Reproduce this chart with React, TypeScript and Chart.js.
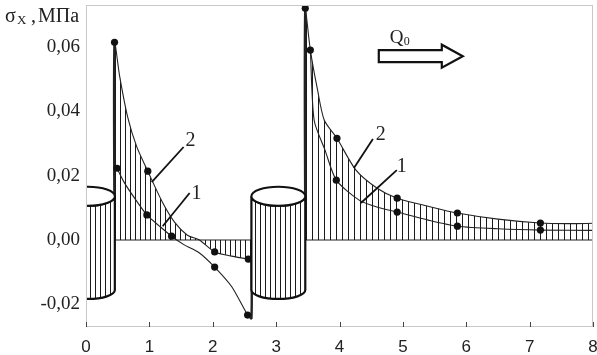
import React, { useEffect, useRef } from "react";
import { Chart, registerables } from "chart.js";

Chart.register(...registerables);

type P = [number, number];

// ---- axis ticks ----
const xTicks = [0, 1, 2, 3, 4, 5, 6, 7, 8];
const yTicks = [-0.02, 0, 0.02, 0.04, 0.06];

// ---- curve 2 (upper) ----
const curve2Left: P[] = [
  [0.45, 0], [0.45, 0.0614], [0.53, 0.051], [0.66, 0.038], [0.8, 0.029],
  [0.975, 0.0214], [1.2, 0.012], [1.4, 0.0055], [1.6, 0.0015], [1.79, 0],
  [2.03, -0.0037], [2.3, -0.005], [2.56, -0.0059], [2.61, -0.006], [2.61, 0],
];
const curve2Right: P[] = [
  [3.46, 0], [3.46, 0.072], [3.54, 0.059], [3.65, 0.047], [3.76, 0.0372],
  [3.96, 0.0316], [4.26, 0.0217], [4.6, 0.016], [4.91, 0.013], [5.4, 0.0105],
  [5.86, 0.0084], [6.5, 0.0065], [7.17, 0.0053], [7.6, 0.0051], [8, 0.0052],
];

// ---- curve 1 (lower) ----
const curve1Left: P[] = [
  [0.49, 0.0223], [0.6, 0.018], [0.75, 0.0135], [0.96, 0.0078], [1.15, 0.0045],
  [1.35, 0.0012], [1.55, -0.0015], [1.79, -0.004], [2.03, -0.0084],
  [2.3, -0.0145], [2.55, -0.0233], [2.61, -0.0245], [2.61, 0],
];
const curve1Right: P[] = [
  [3.54, 0.059], [3.6, 0.0372], [3.77, 0.028], [3.95, 0.0186], [4.31, 0.0124],
  [4.6, 0.0102], [4.91, 0.0087], [5.4, 0.0062], [5.86, 0.0043], [6.5, 0.0035],
  [7.17, 0.0031], [8, 0.003],
];

// ---- measured points ----
const markers2: P[] = [
  [0.45, 0.0614], [0.975, 0.0214], [2.03, -0.0037], [2.56, -0.0059],
  [3.46, 0.072], [3.54, 0.059], [3.96, 0.0316], [4.91, 0.013], [5.86, 0.0084], [7.17, 0.0053],
];
const markers1: P[] = [
  [0.49, 0.0223], [0.96, 0.0078], [1.35, 0.0012], [2.03, -0.0084], [2.55, -0.0233],
  [3.95, 0.0186], [4.91, 0.0087], [5.86, 0.0043], [7.17, 0.0031],
];

// ---- zero line segments ----
const zeroLeft: P[] = [[0.45, 0], [2.61, 0]];
const zeroRight: P[] = [[3.46, 0], [8, 0]];

// ---- supports (cylinders) ----
const supportCenters = [0.03, 3.035];
const supportTop = 0.0136;
const supportBottom = -0.0155;

// ---- annotations ----
const curveLabels = [
  { text: "2", x: 1.65, y: 0.0307, x0: 1.037, y0: 0.018, x1: 1.54, y1: 0.0289 },
  { text: "1", x: 1.745, y: 0.0143, x0: 1.21, y0: 0.0043, x1: 1.635, y1: 0.0146 },
  { text: "2", x: 4.652, y: 0.0326, x0: 4.228, y0: 0.0224, x1: 4.527, y1: 0.0314 },
  { text: "1", x: 4.982, y: 0.0227, x0: 4.338, y0: 0.0115, x1: 4.904, y1: 0.0217 },
];
const arrowAnchor = { x: 4.62, y: 0.0571 };

const STYLE = {
  cylHalfWidth: 0.425,
  cylRyTop: 9.5,
  cylRyBottom: 9,
  frame: "#c8c8c8",
  ink: "#111",
  serif: "'Liberation Serif', 'Times New Roman', serif",
  sans: "'Liberation Sans', Arial, sans-serif",
};

const toXY = (arr: P[]) => arr.map(([x, y]) => ({ x, y }));

function makePattern(step: number): CanvasPattern | string {
  const c = document.createElement("canvas");
  c.width = step;
  c.height = 4;
  const g = c.getContext("2d");
  if (!g) return "rgba(0,0,0,0.2)";
  g.fillStyle = "#1a1a1a";
  g.fillRect(0, 0, 1, 4);
  const p = g.createPattern(c, "repeat");
  return p || "rgba(0,0,0,0.2)";
}

export default function App() {
  const ref = useRef<HTMLCanvasElement | null>(null);

  useEffect(() => {
    const canvas = ref.current;
    if (!canvas) return;
    const patLeft = makePattern(5);
    const patRight = makePattern(6);
    const patCyl = makePattern(5);

    const decor = {
      id: "decor",
      afterDatasetsDraw(chart: any) {
        const { ctx, chartArea: a, scales } = chart;
        const xs = scales.x;
        const ys = scales.y;
        ctx.save();
        ctx.beginPath();
        ctx.rect(a.left, a.top, a.right - a.left, a.bottom - a.top);
        ctx.clip();
        // cylinders
        for (const c of supportCenters) {
          const xc = xs.getPixelForValue(c);
          const hw = xs.getPixelForValue(c + STYLE.cylHalfWidth) - xc;
          const yT = ys.getPixelForValue(supportTop);
          const yB = ys.getPixelForValue(supportBottom);
          ctx.beginPath();
          ctx.moveTo(xc - hw, yT);
          ctx.lineTo(xc - hw, yB);
          ctx.ellipse(xc, yB, hw, STYLE.cylRyBottom, 0, Math.PI, 0, true);
          ctx.lineTo(xc + hw, yT);
          ctx.ellipse(xc, yT, hw, STYLE.cylRyTop, 0, 0, Math.PI, false);
          ctx.closePath();
          ctx.fillStyle = "#fff";
          ctx.fill();
          ctx.fillStyle = patCyl;
          ctx.fill();
          ctx.lineWidth = 2.2;
          ctx.strokeStyle = STYLE.ink;
          ctx.stroke();
          ctx.beginPath();
          ctx.ellipse(xc, yT, hw, STYLE.cylRyTop, 0, 0, Math.PI * 2);
          ctx.fillStyle = "#fff";
          ctx.fill();
          ctx.lineWidth = 2;
          ctx.stroke();
        }
        ctx.restore();

        // curve labels and leaders
        ctx.save();
        ctx.strokeStyle = STYLE.ink;
        ctx.fillStyle = "#222";
        ctx.lineWidth = 1.8;
        ctx.font = `20px ${STYLE.serif}`;
        ctx.textAlign = "center";
        ctx.textBaseline = "middle";
        for (const l of curveLabels) {
          ctx.beginPath();
          ctx.moveTo(xs.getPixelForValue(l.x0), ys.getPixelForValue(l.y0));
          ctx.lineTo(xs.getPixelForValue(l.x1), ys.getPixelForValue(l.y1));
          ctx.stroke();
          ctx.fillText(l.text, xs.getPixelForValue(l.x), ys.getPixelForValue(l.y));
        }

        // Q0 arrow
        const ax = xs.getPixelForValue(arrowAnchor.x);
        const ay = ys.getPixelForValue(arrowAnchor.y);
        ctx.beginPath();
        ctx.moveTo(ax, ay - 6);
        ctx.lineTo(ax + 63, ay - 6);
        ctx.lineTo(ax + 63, ay - 11.5);
        ctx.lineTo(ax + 84, ay);
        ctx.lineTo(ax + 63, ay + 11.5);
        ctx.lineTo(ax + 63, ay + 6);
        ctx.lineTo(ax, ay + 6);
        ctx.closePath();
        ctx.fillStyle = "#fff";
        ctx.fill();
        ctx.lineWidth = 2.2;
        ctx.lineJoin = "miter";
        ctx.stroke();
        ctx.fillStyle = "#222";
        ctx.textAlign = "left";
        ctx.textBaseline = "alphabetic";
        ctx.font = `19px ${STYLE.serif}`;
        ctx.fillText("Q", ax + 11, ay - 13);
        ctx.font = `12px ${STYLE.serif}`;
        ctx.fillText("0", ax + 25, ay - 11);
        ctx.restore();
      },
      afterDraw(chart: any) {
        const { ctx, chartArea: a, scales } = chart;
        const xs = scales.x;
        ctx.save();
        // frame
        ctx.strokeStyle = STYLE.frame;
        ctx.lineWidth = 1;
        ctx.strokeRect(a.left + 0.5, a.top + 0.5, a.right - a.left - 1, a.bottom - a.top - 1);
        // inside x ticks
        ctx.strokeStyle = "#444";
        for (const t of xTicks) {
          const px = Math.round(xs.getPixelForValue(t)) + 0.5;
          ctx.beginPath();
          ctx.moveTo(px, a.bottom);
          ctx.lineTo(px, a.bottom - 5);
          ctx.stroke();
        }
        // y-axis title
        ctx.fillStyle = "#222";
        ctx.textBaseline = "alphabetic";
        ctx.textAlign = "left";
        ctx.font = `20px ${STYLE.serif}`;
        ctx.fillText("σ", 5, 22);
        ctx.font = `13px ${STYLE.serif}`;
        ctx.fillText("X", 17, 24);
        ctx.font = `20px ${STYLE.serif}`;
        ctx.fillText(",", 31, 22);
        ctx.fillText("МПа", 38, 22);
        ctx.restore();
      },
    };

    const lineDs = (data: P[], extra: any = {}) => ({
      data: toXY(data),
      borderColor: "#222",
      borderWidth: 1.1,
      pointRadius: 0,
      fill: false,
      tension: 0.25,
      segment: {
        borderWidth: (c: any) => (c.p0.parsed.x === c.p1.parsed.x ? 2.4 : 1.1),
      },
      ...extra,
    });

    const chart = new Chart(canvas, {
      type: "line",
      data: {
        datasets: [
          { type: "scatter", data: toXY(markers2), pointRadius: 3.6, pointBackgroundColor: "#111", pointBorderWidth: 0, showLine: false } as any,
          { type: "scatter", data: toXY(markers1), pointRadius: 3.6, pointBackgroundColor: "#111", pointBorderWidth: 0, showLine: false } as any,
          lineDs(curve1Left),
          lineDs(curve1Right),
          lineDs(curve2Left, { fill: "origin", backgroundColor: patLeft }),
          lineDs(curve2Right, { fill: "origin", backgroundColor: patRight }),
          lineDs(zeroLeft, { tension: 0, borderWidth: 1.2 }),
          lineDs(zeroRight, { tension: 0, borderWidth: 1.2 }),
        ],
      },
      plugins: [decor],
      options: {
        responsive: false,
        animation: false,
        events: [],
        layout: { padding: { top: 5, right: 2, left: 0, bottom: 0 } },
        plugins: { legend: { display: false }, tooltip: { enabled: false } },
        scales: {
          x: {
            type: "linear",
            min: 0,
            max: 8,
            grid: { display: false, drawTicks: false },
            border: { display: false },
            afterBuildTicks: (s: any) => { s.ticks = xTicks.map((v) => ({ value: v })); },
            afterFit: (s: any) => { s.height = 28; s.paddingLeft = 0; s.paddingRight = 0; },
            ticks: {
              padding: 10,
              color: "#222",
              font: { family: STYLE.sans, size: 17 },
              maxRotation: 0,
              autoSkip: false,
              callback: (v: any) => String(v),
            },
          },
          y: {
            type: "linear",
            min: -0.027,
            max: 0.073,
            grid: { display: false, drawTicks: false },
            border: { display: false },
            afterBuildTicks: (s: any) => { s.ticks = yTicks.map((v) => ({ value: v })); },
            afterFit: (s: any) => { s.width = 86; s.paddingTop = 0; s.paddingBottom = 0; },
            ticks: {
              padding: 6,
              color: "#222",
              font: { family: STYLE.serif, size: 19 },
              autoSkip: false,
              callback: (v: any) => Number(v).toFixed(2).replace(".", ","),
            },
          },
        },
      } as any,
    });
    return () => chart.destroy();
  }, []);

  return (
    <div style={{ position: "fixed", left: 0, top: 0, width: 597, height: 355, background: "#fff" }}>
      <canvas ref={ref} width={597} height={355} style={{ display: "block", width: 597, height: 355 }} />
    </div>
  );
}
